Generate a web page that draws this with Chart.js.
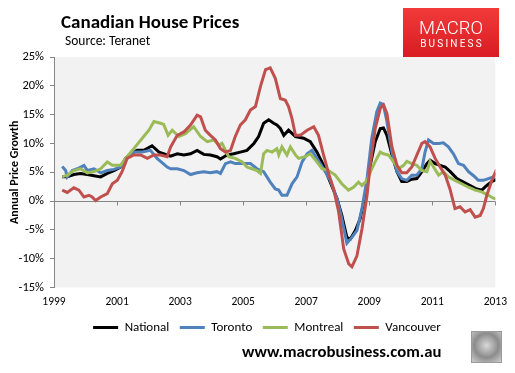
<!DOCTYPE html>
<html>
<head>
<meta charset="utf-8">
<script src="https://cdn.jsdelivr.net/npm/chart.js@4.4.0/dist/chart.umd.min.js"></script>
<style>
  html, body { margin: 0; padding: 0; background: #fff; }
  #wrap { position: relative; width: 515px; height: 373px; font-family: Carlito, Lato, "Open Sans", sans-serif; color: #000; }
  #chart { position: absolute; left: 0; top: 0; }
  .title { position: absolute; left: 61px; top: 12px; font-size: 19px; line-height: 19px; font-weight: bold; white-space: nowrap; }
  .source { position: absolute; left: 65px; top: 34px; font-size: 13.5px; line-height: 13.5px; white-space: nowrap; }
  .logo { position: absolute; left: 403px; top: 8px; width: 96px; height: 49px; background: linear-gradient(#f23a3a, #d81c22); color: #fff; text-align: center; font-family: Roboto, "Liberation Sans", sans-serif; }
  .logo .big { position: absolute; left: 0; width: 96px; top: 11px; font-size: 18.5px; line-height: 18.5px; font-weight: 300; }
  .logo .small { position: absolute; left: 0; width: 96px; top: 31px; font-size: 10px; line-height: 10px; letter-spacing: 2.2px; text-indent: 2px; }
  .url { position: absolute; left: 242px; top: 343px; font-size: 16.7px; line-height: 16.7px; font-weight: bold; white-space: nowrap; }
  .wolf { position: absolute; left: 471px; top: 331px; width: 29px; height: 30px; border: 1px solid #9a9a9a; background: radial-gradient(circle at 50% 45%, #d8d8d8 0%, #8c8c8c 55%, #cfcfcf 100%); }
</style>
</head>
<body>
<div id="wrap">
  <canvas id="chart" width="515" height="373"></canvas>
  <div class="title">Canadian House Prices</div>
  <div class="source">Source: Teranet</div>
  <div class="logo"><div class="big">MACRO</div><div class="small">BUSINESS</div></div>
  <div class="url">www.macrobusiness.com.au</div>
  <div class="wolf"></div>
</div>
<script>
// annual price growth (%); dates are decimal years
const seriesNames = ['National', 'Toronto', 'Montreal', 'Vancouver'];

const nationalDates = [
  1999.26, 1999.42, 1999.63, 1999.84,
  2000.06, 2000.27, 2000.48, 2000.69, 2000.90,
  2001.11, 2001.27, 2001.43, 2001.64, 2001.85,
  2002.11, 2002.33, 2002.59, 2002.70, 2002.91,
  2003.12, 2003.33, 2003.54, 2003.75, 2003.96,
  2004.17, 2004.28, 2004.49, 2004.70, 2004.91,
  2005.12, 2005.34, 2005.49, 2005.65, 2005.81, 2005.97,
  2006.07, 2006.18, 2006.29, 2006.44, 2006.66, 2006.92,
  2007.13, 2007.34, 2007.55, 2007.76, 2007.98,
  2008.13, 2008.29, 2008.40, 2008.56, 2008.71, 2008.87,
  2009.03, 2009.19, 2009.35, 2009.45, 2009.56, 2009.72, 2009.88,
  2010.03, 2010.19, 2010.35, 2010.51, 2010.67, 2010.83, 2010.93,
  2011.09, 2011.25, 2011.41, 2011.57, 2011.78, 2011.99,
  2012.20, 2012.41, 2012.57, 2012.73, 2012.89,
  2013.04
];
const nationalValues = [
  4.2, 4.2, 4.6, 4.8,
  4.6, 4.4, 4.2, 4.8, 5.3,
  5.9, 7.4, 8.2, 8.8, 8.8,
  9.6, 8.5, 8.0, 7.8, 8.2,
  8.0, 8.2, 8.8, 8.1, 8.0,
  7.7, 7.3, 8.0, 8.2, 8.5,
  8.8, 10.0, 11.2, 13.5, 14.1, 13.5,
  13.2, 12.6, 11.4, 12.3, 11.2, 10.9,
  10.3, 8.5, 6.2, 3.3, 0.4,
  -2.5, -6.3, -6.6, -5.1, -3.1, 1.0,
  6.2, 10.3, 12.6, 12.7, 11.4, 8.0, 5.1,
  3.4, 3.4, 3.8, 3.9, 5.1, 6.5, 7.1,
  6.5, 6.2, 5.9, 5.1, 3.9, 3.3,
  2.7, 2.1, 1.9, 2.7, 3.4,
  3.8
];

const torontoDates = [
  1999.26, 1999.37, 1999.42, 1999.58, 1999.74, 1999.95,
  2000.06, 2000.27, 2000.48, 2000.69, 2000.90,
  2001.11, 2001.27, 2001.53, 2001.80,
  2002.06, 2002.27, 2002.59, 2002.70, 2002.91,
  2003.12, 2003.33, 2003.54, 2003.75, 2003.96,
  2004.17, 2004.28, 2004.44, 2004.60, 2004.75, 2004.97,
  2005.23, 2005.44, 2005.65, 2005.86,
  2006.02, 2006.13, 2006.23, 2006.39, 2006.55, 2006.71, 2006.87,
  2007.03, 2007.18, 2007.34, 2007.55, 2007.76, 2007.98,
  2008.13, 2008.29, 2008.45, 2008.61, 2008.77, 2008.93,
  2009.08, 2009.24, 2009.35, 2009.45, 2009.56, 2009.72, 2009.88,
  2010.03, 2010.19, 2010.35, 2010.51, 2010.67, 2010.77, 2010.88,
  2011.04, 2011.20, 2011.35, 2011.51, 2011.67, 2011.83, 2011.99,
  2012.15, 2012.31, 2012.46, 2012.62, 2012.78, 2012.94,
  2013.06
];
const torontoValues = [
  6.0, 5.3, 4.2, 5.3, 5.6, 6.2,
  5.3, 5.6, 4.9, 5.3, 5.5,
  5.9, 7.4, 8.5, 8.5,
  8.8, 7.4, 5.9, 5.6, 5.6,
  5.3, 4.6, 4.9, 5.1, 4.9,
  5.1, 4.8, 6.5, 6.8, 6.5, 6.5,
  6.5, 5.6, 5.1, 3.3,
  2.1, 1.9, 1.0, 1.0, 3.0, 4.2, 6.8,
  8.2, 8.8, 7.4, 5.6, 3.6, 0.4,
  -3.1, -7.3, -6.3, -5.1, -1.3, 3.9,
  10.9, 15.5, 17.0, 16.7, 13.8, 8.5, 5.1,
  3.9, 3.6, 4.5, 4.5, 5.6, 8.5, 10.6,
  10.0, 10.0, 10.1, 9.4, 8.2, 6.5, 6.2,
  5.1, 4.4, 3.6, 3.6, 3.9, 4.2,
  4.8
];

const montrealDates = [
  1999.26, 1999.42, 1999.63, 1999.84,
  2000.06, 2000.27, 2000.48, 2000.69, 2000.85,
  2001.11, 2001.27, 2001.53, 2001.80,
  2002.01, 2002.17, 2002.38, 2002.48, 2002.62, 2002.75, 2002.96,
  2003.17, 2003.43, 2003.65, 2003.86,
  2004.07, 2004.23, 2004.33, 2004.54, 2004.75, 2004.97,
  2005.12, 2005.28, 2005.44, 2005.55, 2005.65, 2005.76, 2005.92,
  2006.07, 2006.13, 2006.23, 2006.39, 2006.50, 2006.66, 2006.76, 2006.97,
  2007.13, 2007.34, 2007.50, 2007.71, 2007.92,
  2008.13, 2008.34, 2008.50, 2008.66, 2008.77, 2008.93,
  2009.08, 2009.24, 2009.35, 2009.45, 2009.61, 2009.77, 2009.93,
  2010.09, 2010.19, 2010.35, 2010.51, 2010.67, 2010.83, 2010.93,
  2011.04, 2011.20, 2011.35, 2011.51, 2011.72, 2011.93,
  2012.15, 2012.36, 2012.57, 2012.78, 2012.94,
  2013.06
];
const montrealValues = [
  4.2, 4.5, 5.3, 5.6,
  4.9, 5.1, 5.6, 6.8, 6.2,
  6.2, 7.4, 9.1, 10.9,
  12.3, 13.8, 13.5, 13.3, 11.4, 12.3, 11.2,
  11.7, 12.9, 11.2, 10.3,
  10.6, 9.7, 10.0, 7.7, 7.4, 6.8,
  5.9, 5.6, 5.3, 4.8, 8.2, 8.8, 8.5,
  9.1, 8.0, 9.4, 8.0, 9.4, 8.0, 7.4, 7.7,
  8.2, 6.8, 5.6, 5.3, 4.5,
  3.0, 1.9, 2.4, 3.3, 2.7, 3.6,
  5.6, 7.4, 8.5, 8.2, 8.0, 6.8, 5.6,
  6.2, 6.9, 6.5, 6.2, 5.3, 5.1, 6.9,
  5.9, 4.5, 5.1, 4.2, 3.6, 3.0,
  2.4, 1.9, 1.6, 1.0, 0.5,
  0.3
];

const vancouverDates = [
  1999.26, 1999.42, 1999.63, 1999.79, 1999.95,
  2000.11, 2000.21, 2000.32, 2000.48, 2000.69, 2000.85,
  2001.01, 2001.16, 2001.32, 2001.53, 2001.75, 2001.96,
  2002.17, 2002.38, 2002.59, 2002.70, 2002.91,
  2003.12, 2003.33, 2003.54, 2003.65, 2003.80, 2003.96,
  2004.12, 2004.28, 2004.44, 2004.60, 2004.75, 2004.91,
  2005.07, 2005.23, 2005.39, 2005.55, 2005.71, 2005.86,
  2006.02, 2006.07, 2006.18, 2006.34, 2006.44, 2006.55, 2006.66, 2006.81,
  2007.03, 2007.24, 2007.39, 2007.55, 2007.71, 2007.87,
  2008.03, 2008.19, 2008.35, 2008.45, 2008.61, 2008.77, 2008.93,
  2009.03, 2009.19, 2009.35, 2009.45, 2009.56, 2009.72, 2009.88,
  2010.03, 2010.19, 2010.35, 2010.51, 2010.67, 2010.77, 2010.93,
  2011.09, 2011.25, 2011.41, 2011.56, 2011.72, 2011.88,
  2012.04, 2012.20, 2012.36, 2012.52, 2012.62, 2012.73, 2012.89,
  2013.04
];
const vancouverValues = [
  1.9, 1.5, 2.3, 1.9, 0.7,
  1.0, 0.7, 0.1, 0.7, 1.3, 3.0,
  3.6, 5.1, 7.4, 8.0, 8.0, 7.4,
  8.0, 8.0, 7.7, 9.4, 11.4,
  12.0, 13.2, 14.9, 14.6, 12.3, 11.4,
  10.6, 9.1, 8.5, 8.8, 11.2, 13.2,
  14.1, 15.8, 16.4, 19.9, 22.8, 23.1,
  21.3, 20.2, 17.8, 17.5, 16.4, 14.3, 11.4, 11.4,
  12.3, 12.9, 11.4, 8.0, 4.8, 2.1,
  -1.9, -8.3, -10.9, -11.4, -9.5, -4.8, 1.0,
  6.2, 12.6, 16.1, 16.7, 15.2, 9.4, 6.2,
  4.9, 4.9, 5.9, 8.0, 10.0, 10.3, 9.4,
  7.4, 5.9, 4.5, 2.1, -1.3, -1.0,
  -1.9, -1.5, -2.8, -2.5, -1.3, 1.0, 3.6,
  5.5
];

const yearTicks = [1999, 2001, 2003, 2005, 2007, 2009, 2011, 2013];
const seriesColors = ['#000000', '#4f81bd', '#9bbb59', '#c0504d'];

const zip = (xs, ys) => xs.map((x, i) => ({ x: x, y: ys[i] }));
const allSeries = [
  zip(nationalDates, nationalValues),
  zip(torontoDates, torontoValues),
  zip(montrealDates, montrealValues),
  zip(vancouverDates, vancouverValues)
];

// grey plot area plus the zero line with the year tick marks on it
const plotDecor = {
  id: 'plotDecor',
  afterLayout(chart) {
    // nudge the legend a little right, like the original
    chart.legend.left += 18;
    chart.legend.right += 18;
  },
  beforeDraw(chart) {
    const { ctx, chartArea: a } = chart;
    ctx.save();
    ctx.fillStyle = '#f2f2f2';
    ctx.fillRect(a.left, a.top, a.right - a.left, a.bottom - a.top);
    ctx.restore();
  },
  beforeDatasetsDraw(chart) {
    const { ctx, chartArea: a, scales } = chart;
    const y0 = Math.round(scales.y.getPixelForValue(0)) + 0.5;
    ctx.save();
    ctx.strokeStyle = '#868686';
    ctx.lineWidth = 1;
    ctx.beginPath();
    ctx.moveTo(a.left, y0);
    ctx.lineTo(a.right, y0);
    yearTicks.forEach(yr => {
      const px = Math.round(scales.x.getPixelForValue(yr)) + 0.5;
      ctx.moveTo(px, y0);
      ctx.lineTo(px, y0 + 4);
    });
    ctx.stroke();
    ctx.restore();
  }
};

const fontFamily = 'Carlito, Lato, "Open Sans", sans-serif';

new Chart(document.getElementById('chart'), {
  type: 'line',
  data: {
    datasets: allSeries.map((pts, i) => ({
      label: seriesNames[i],
      data: pts,
      borderColor: seriesColors[i],
      backgroundColor: seriesColors[i],
      borderWidth: 3,
      pointRadius: 0,
      tension: 0,
      order: 4 - i
    }))
  },
  options: {
    responsive: false,
    animation: false,
    layout: { padding: { left: 0, right: 17, top: 57, bottom: 29 } },
    plugins: {
      tooltip: { enabled: false },
      legend: {
        position: 'bottom',
        labels: {
          boxWidth: 25,
          boxHeight: 3,
          padding: 10.5,
          color: '#000',
          font: { family: fontFamily, size: 13 },
          generateLabels: (chart) => chart.data.datasets.map((ds, i) => ({
            text: ds.label,
            fillStyle: ds.borderColor,
            strokeStyle: ds.borderColor,
            lineWidth: 0,
            hidden: false,
            datasetIndex: i
          }))
        }
      }
    },
    scales: {
      x: {
        type: 'linear',
        min: 1999,
        max: 2013,
        grid: { display: false, drawTicks: false },
        border: { display: false },
        afterBuildTicks: (scale) => { scale.ticks = yearTicks.map(v => ({ value: v })); },
        afterFit: (scale) => { scale.height = 23; },
        ticks: {
          autoSkip: false,
          maxRotation: 0,
          padding: 8,
          color: '#000',
          font: { family: fontFamily, size: 11.5 },
          callback: (v) => String(v)
        }
      },
      y: {
        min: -15,
        max: 25,
        afterFit: (scale) => { scale.width = 54; },
        grid: { display: true, drawOnChartArea: false, drawTicks: true, tickLength: 4, color: '#868686' },
        border: { display: true, color: '#868686' },
        ticks: {
          stepSize: 5,
          padding: 6,
          color: '#000',
          font: { family: fontFamily, size: 12.5 },
          callback: (v) => v + '%'
        },
        title: {
          display: true,
          text: 'Annual Price Growth',
          color: '#000',
          padding: { top: 8, bottom: 0 },
          font: { family: fontFamily, size: 12, weight: 'bold' }
        }
      }
    }
  },
  plugins: [plotDecor]
});
</script>
</body>
</html>
